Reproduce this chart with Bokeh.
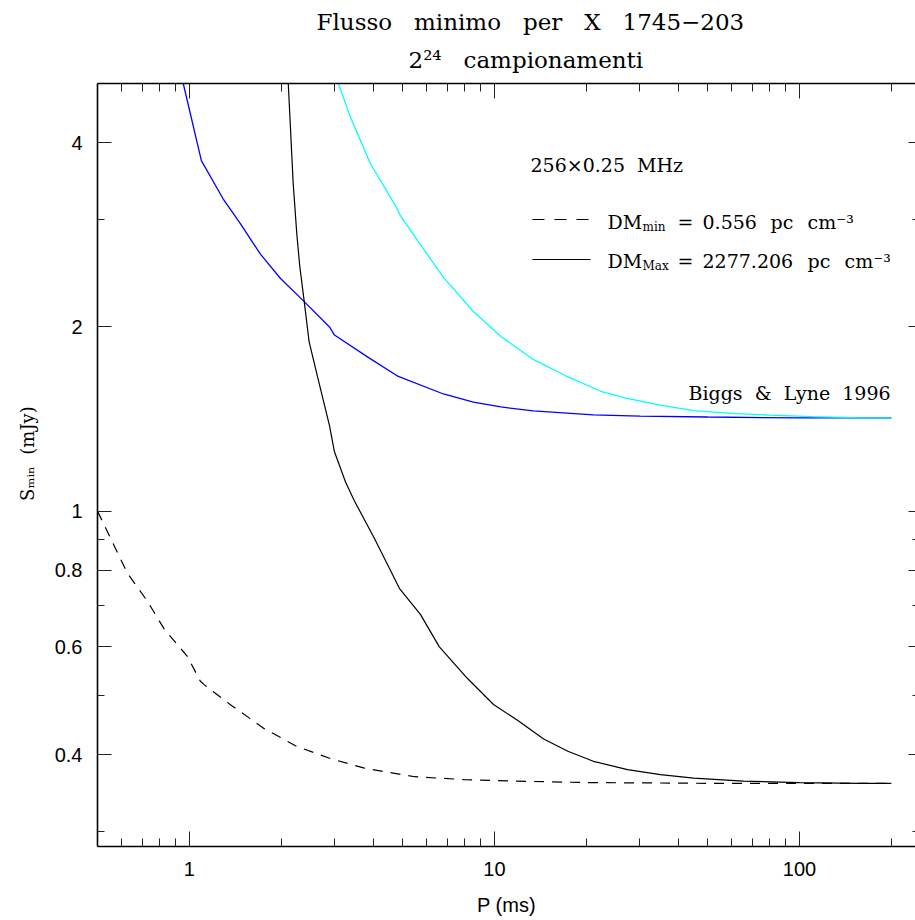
import math
from bokeh.plotting import figure
from bokeh.models import (FixedTicker, LogAxis, Label, Arrow, CustomJSTickFormatter, Range1d, Title)
from bokeh.embed import file_html
from bokeh.resources import INLINE

# ---------------- data ----------------
# DM_min curve (dashed black)
p_dmmin = [0.5, 0.538, 0.626, 0.728, 0.828, 0.985, 1.087, 1.12, 1.36, 1.76, 2.26, 2.90, 3.75, 5.47, 7.98, 11.6, 20, 50, 100, 200]
s_dmmin = [1.0, 0.927, 0.792, 0.713, 0.641, 0.579, 0.527, 0.52, 0.483, 0.441, 0.412, 0.394, 0.380, 0.368, 0.364, 0.362, 0.360, 0.359, 0.359, 0.359]

# DM_Max curve (solid black)
p_dmmax = [2.105, 2.11, 2.19, 2.25, 2.30, 2.38, 2.47, 2.63, 2.88, 2.99, 3.25, 3.48, 4.04, 4.70, 4.88, 5.72, 6.6, 8.15, 9.93, 11.9, 14.5, 17.4, 21.1, 27.3, 35.0, 45.0, 65.5, 100, 158, 200]
s_dmmax = [5.2, 5.0, 3.43, 2.84, 2.52, 2.20, 1.89, 1.66, 1.38, 1.25, 1.116, 1.038, 0.903, 0.777, 0.748, 0.678, 0.600, 0.533, 0.483, 0.455, 0.424, 0.405, 0.390, 0.378, 0.371, 0.366, 0.362, 0.360, 0.359, 0.359]

# Biggs & Lyne 1996, blue
p_blue = [0.923, 0.955, 1.095, 1.29, 1.47, 1.71, 1.99, 2.38, 2.88, 2.99, 3.88, 4.84, 6.81, 8.53, 10.5, 13.4, 17.3, 21.1, 30, 50, 100, 200]
s_blue = [5.3, 5.0, 3.74, 3.24, 2.95, 2.63, 2.40, 2.20, 2.00, 1.94, 1.78, 1.66, 1.554, 1.507, 1.480, 1.458, 1.446, 1.437, 1.43, 1.425, 1.42, 1.42]

# Biggs & Lyne 1996, cyan
p_cyan = [3.0, 3.08, 3.37, 3.92, 4.73, 4.92, 5.71, 6.81, 8.53, 10.5, 13.4, 17.3, 22.3, 27, 35, 45, 60, 80, 110, 158, 200]
s_cyan = [5.3, 5.0, 4.41, 3.70, 3.16, 3.04, 2.73, 2.41, 2.12, 1.93, 1.77, 1.66, 1.57, 1.53, 1.49, 1.46, 1.445, 1.435, 1.427, 1.42, 1.42]

x_major = [1, 10, 100]
x_minor = [0.6, 0.7, 0.8, 0.9, 2, 3, 4, 5, 6, 7, 8, 9, 20, 30, 40, 50, 60, 70, 80, 90, 200]
y_major = [0.4, 0.6, 0.8, 1, 2, 4]
y_minor = [0.3, 0.5, 0.7, 0.9, 3]

NB = "\u00a0"
title_1 = "Flusso" + NB * 2 + " minimo" + NB * 2 + " per" + NB * 2 + " X" + NB * 2 + " 1745\u2212203"
title_2 = "2\u00b2\u2074" + NB * 2 + " campionamenti"
y_title = NB * 4 + "S\u2098\u1d62\u2099" + NB + " (mJy)"
x_title = "P (ms)"

SERIF = "DejaVu Serif"
SANS = "Liberation Sans"

p = figure(width=915, height=920, x_axis_type="log", y_axis_type="log",
           x_range=Range1d(0.5, 240), y_range=Range1d(0.283, 5.0),
           output_backend="svg", toolbar_location=None, title=None,
           min_border_left=97, min_border_right=0, min_border_top=83, min_border_bottom=74)
p.outline_line_color = None
p.grid.visible = False
p.background_fill_color = "white"
p.border_fill_color = "white"

fmt = CustomJSTickFormatter(code="return String(tick)")

def style_axis(ax, major_len, minor_len, labels=True, line=True):
    ax.major_tick_in = major_len
    ax.major_tick_out = 0
    ax.minor_tick_in = minor_len
    ax.minor_tick_out = 0
    ax.major_tick_line_color = "#222222"
    ax.minor_tick_line_color = "#222222"
    ax.major_tick_line_width = 1
    ax.minor_tick_line_width = 1
    if line:
        ax.axis_line_color = "black"
        ax.axis_line_width = 1.6
    else:
        ax.axis_line_color = None
    ax.formatter = fmt
    if labels:
        ax.major_label_text_font = SANS
        ax.major_label_text_font_size = "20px"
        ax.major_label_text_color = "black"
        ax.major_label_standoff = 15
    else:
        ax.major_label_text_font_size = "1px"
        ax.major_label_text_alpha = 0.0
        ax.major_label_standoff = 0

xb = p.xaxis[0]
xb.ticker = FixedTicker(ticks=x_major, minor_ticks=x_minor)
style_axis(xb, 15, 8)
xb.axis_label = x_title
xb.axis_label_text_font = SANS
xb.axis_label_text_font_style = "normal"
xb.axis_label_text_font_size = "20px"
xb.axis_label_text_color = "black"
xb.axis_label_standoff = 15

yl = p.yaxis[0]
yl.ticker = FixedTicker(ticks=y_major, minor_ticks=y_minor)
style_axis(yl, 14, 7)
yl.axis_label = y_title
yl.axis_label_text_font = SERIF
yl.axis_label_text_font_style = "normal"
yl.axis_label_text_font_size = "18px"
yl.axis_label_text_color = "black"
yl.axis_label_standoff = 14

xt = LogAxis(ticker=FixedTicker(ticks=x_major, minor_ticks=x_minor))
style_axis(xt, 15, 8, labels=False)
xt.major_label_standoff = 4
p.add_layout(xt, "above")

p.add_layout(Title(text=title_2, align="left", offset=311, text_font=SERIF, text_font_size="23px",
                   text_font_style="normal", text_color="black", standoff=21), "above")
p.add_layout(Title(text=title_1, align="left", offset=219, text_font=SERIF, text_font_size="23px",
                   text_font_style="normal", text_color="black", standoff=0), "above")

yr = LogAxis(ticker=FixedTicker(ticks=y_major, minor_ticks=y_minor))
style_axis(yr, 7, 3, labels=False, line=False)
p.add_layout(yr, "right")

# ---------------- curves ----------------
p.line(p_blue, s_blue, line_color="#0000ff", line_width=1.3)
p.line(p_cyan, s_cyan, line_color="#00ffff", line_width=1.3)
p.line(p_dmmax, s_dmmax, line_color="black", line_width=1.2)
p.line(p_dmmin, s_dmmin, line_color="black", line_width=1.2, line_dash="10 8")

# ---------------- texts inside the frame (screen coords relative to frame) ----------------
FL, FB = 97, 846

def lab(text, cx, cy, size, font=SERIF, align="left", baseline="alphabetic"):
    p.add_layout(Label(x=cx - FL, y=FB - cy, x_units="screen", y_units="screen", text=text,
                       text_font=font, text_font_size=size, text_align=align,
                       text_baseline=baseline, text_color="black"))

lab("256\u00d70.25" + NB + NB + "MHz", 530, 164, "19px")

def sample(x0, x1, y, dash):
    p.add_layout(Arrow(end=None, start=None, x_start=x0 - FL, y_start=FB - y, x_end=x1 - FL, y_end=FB - y,
                       start_units="screen", end_units="screen", line_color="black", line_width=1.2,
                       line_dash=dash))

sample(532, 590, 219, "12 10")
sample(532, 590, 259, "solid")

for row_y, sub, val, pc_x, cm_x in [(221, "min", "0.556", 770, 807), (260, "Max", "2277.206", 807, 844)]:
    lab("DM", 607, row_y, "19px")
    lab(sub, 642, row_y + 5, "12px")
    lab("=", 677, row_y, "19px")
    lab(val, 702, row_y, "19px")
    lab("pc", pc_x, row_y, "19px")
    lab("cm\u207b\u00b3", cm_x, row_y, "19px")

lab("Biggs" + NB + NB + "&" + NB + NB + "Lyne" + NB + NB + "1996", 688, 392, "19px")

open("out.html", "w").write(file_html(p, INLINE))
